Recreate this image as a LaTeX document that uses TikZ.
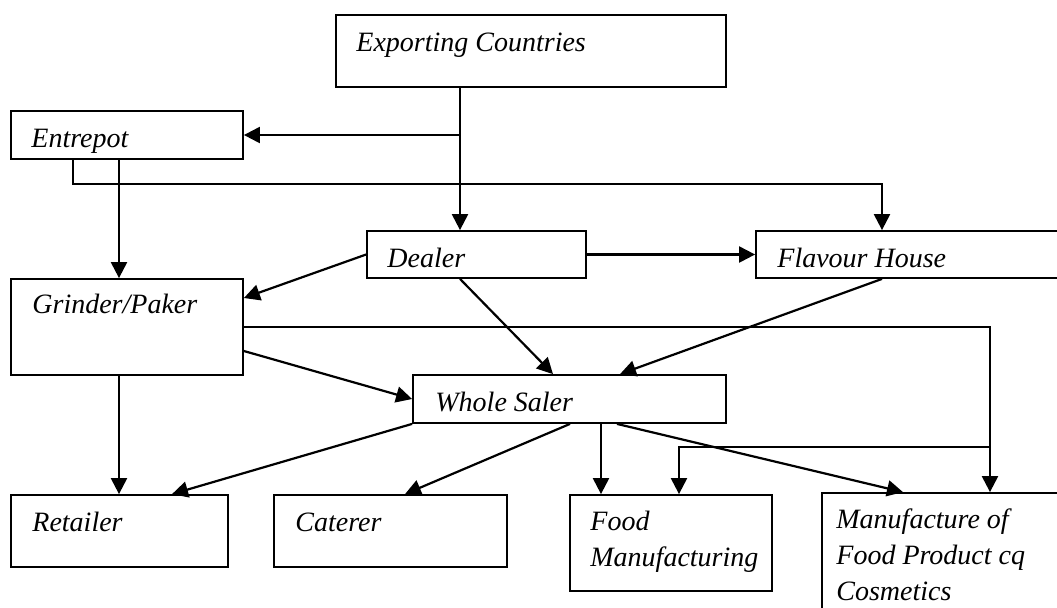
\documentclass[tikz,border=0pt]{standalone}
\usepackage{fontspec}
\setmainfont{Liberation Serif}
\usetikzlibrary{arrows.meta,fit}
\tikzset{>={Triangle[length=8pt,width=8pt]}}

\begin{document}
\begin{tikzpicture}[x=0.5pt, y=-0.5pt,
    box/.style={draw, line width=0.9pt, inner sep=0pt},
    txt/.style={anchor=base west, inner sep=0pt, align=left,
      font=\fontsize{14}{18}\selectfont\itshape},
    flow/.style={->, line width=1.1pt}]
  \useasboundingbox (0,0) rectangle (1057,607);
  \clip (0,0) rectangle (1057,607);

  % boxes, by corners in pixels
  \foreach \n/\xa/\ya/\xb/\yb in {exp/336/15/726/87, ent/11/111/243/159,
      dlr/367/231/586/278, fla/756/231/1070/278, grd/11/279/243/375,
      whs/413/375/726/423, ret/11/495/228/567, cat/274/495/507/567,
      fdm/570/495/772/591, mfc/822/493/1070/620} {
    \node[box, fit={(\xa,\ya) (\xb,\yb)}] (\n) {};
  }

  % labels (base = last line)
  \node[txt] (exp-t) at (356,51) {Exporting Countries};
  \node[txt] (ent-t) at (31,147) {Entrepot};
  \node[txt] (dlr-t) at (387,267) {Dealer};
  \node[txt] (fla-t) at (777,267) {Flavour House};
  \node[txt] (grd-t) at (32,313) {Grinder/Paker};
  \node[txt] (whs-t) at (435,411) {Whole Saler};
  \node[txt] (ret-t) at (32,531) {Retailer};
  \node[txt] (cat-t) at (295,531) {Caterer};
  \node[txt] (fdm-t) at (590,566) {Food\\Manufacturing};
  \node[txt] (mfc-t) at (836,600) {Manufacture of\\Food Product cq\\Cosmetics};

  % connectors
  \coordinate (jx) at (460,135);
  \draw[flow] (exp.south -| jx) -- (dlr.north -| jx);
  \draw[flow] (jx) -- (jx -| ent.east);
  \draw[flow] (ent.south -| 119,0) -- (grd.north -| 119,0);
  \draw[flow] (ent.south -| 73,0) -- ++(0,24) -| (fla.north -| 882,0);
  \draw[flow] (dlr.east) -- (fla.west);
  \draw[flow] (dlr.west) -- (grd.east |- 0,298);
  \draw[flow] (dlr.south -| jx) -- (whs.north -| 553,0);
  \draw[flow] (fla.south -| 882,0) -- (whs.north -| 620,0);
  \coordinate (jy) at (990,447);
  \draw[flow] (grd.east) -| (mfc.north -| jy);
  \draw[flow] (jy) -| (fdm.north -| 679,0);
  \draw[flow] (grd.east |- 0,351) -- (whs.west);
  \draw[flow] (grd.south -| 119,0) -- (ret.north -| 119,0);
  \draw[flow] (whs.south west) -- (ret.north -| 172,0);
  \draw[flow] (whs.south -| 570,0) -- (cat.north -| 405,0);
  \draw[flow] (whs.south -| 601,0) -- (fdm.north -| 601,0);
  \draw[flow] (whs.south -| 617,0) -- (mfc.north -| 903,0);
\end{tikzpicture}
\end{document}
